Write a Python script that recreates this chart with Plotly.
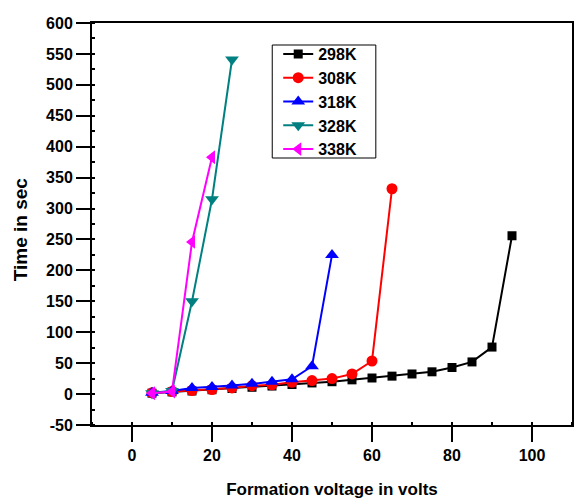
import plotly.graph_objects as go

# Data
x_298 = [5, 10, 15, 20, 25, 30, 35, 40, 45, 50, 55, 60, 65, 70, 75, 80, 85, 90, 95]
y_298 = [1.5, 3.5, 5, 7, 9, 11, 13, 15.5, 18, 20, 23, 26, 29, 32.5, 36, 43, 52, 76, 256]

x_308 = [5, 10, 15, 20, 25, 30, 35, 40, 45, 50, 55, 60, 65]
y_308 = [2, 4, 5.8, 7.4, 10, 13.5, 15, 19, 21.8, 25, 32.5, 53.5, 332]

x_318 = [5, 10, 15, 20, 25, 30, 35, 40, 45, 50]
y_318 = [2, 5, 9.7, 11.3, 13.8, 16.5, 20, 24, 45, 225]

x_328 = [5, 10, 15, 20, 25]
y_328 = [1.5, 5, 150, 315, 541]

x_338 = [5, 10, 15, 20]
y_338 = [1.3, 4, 246, 383]

names = ["298K", "308K", "318K", "328K", "338K"]
colors = ["#000000", "#ff0000", "#0000ff", "#008080", "#ff00ff"]
symbols = ["square", "circle", "triangle-up", "triangle-down", "triangle-left"]
sizes = [9, 11, 12, 12, 12]

x_ticks = [0, 20, 40, 60, 80, 100]
y_ticks = [-50, 0, 50, 100, 150, 200, 250, 300, 350, 400, 450, 500, 550, 600]

series = [(x_298, y_298), (x_308, y_308), (x_318, y_318), (x_328, y_328), (x_338, y_338)]

FONT = "Liberation Sans, Arial, sans-serif"

fig = go.Figure()
for (xs, ys), n, c, s, sz in zip(series, names, colors, symbols, sizes):
    fig.add_trace(go.Scatter(
        x=xs, y=ys, name=n, mode="lines+markers",
        line=dict(color=c, width=2),
        marker=dict(symbol=s, size=sz, color=c),
    ))

# plot area in pixels: x 92..574, y 23..425
PX0, PX1, PY0, PY1 = 92, 574, 23, 425
def px(x):
    return (x - PX0) / (PX1 - PX0)
def py(y):
    return (PY1 - y) / (PY1 - PY0)

fig.update_layout(
    width=575, height=499,
    margin=dict(l=92, r=1, t=23, b=74),
    paper_bgcolor="white", plot_bgcolor="white",
    font=dict(family=FONT, color="black", size=16, weight="bold"),
    showlegend=True,
    legend=dict(
        x=px(279), y=py(37), xanchor="left", yanchor="top",
        borderwidth=0, bgcolor="rgba(0,0,0,0)",
        font=dict(family=FONT, size=16, weight="bold", color="black"),
        tracegroupgap=0, itemwidth=30,
    ),
    shapes=[dict(type="rect", xref="paper", yref="paper",
                 x0=px(273), x1=px(377), y0=py(158), y1=py(45),
                 line=dict(color="black", width=1), fillcolor="rgba(0,0,0,0)",
                 layer="below")],
    annotations=[dict(text="Time in sec", textangle=-90, xref="paper", yref="paper",
                      x=px(20), y=py(229), xanchor="center", yanchor="middle",
                      showarrow=False,
                      font=dict(family=FONT, size=19, weight="bold", color="black"))],
)

fig.update_xaxes(
    range=[-10, 110], tickvals=x_ticks, ticktext=[str(v) for v in x_ticks],
    showgrid=False, zeroline=False,
    showline=True, linecolor="black", linewidth=2, mirror=True,
    ticks="outside", ticklen=15, tickwidth=2, tickcolor="black",
    minor=dict(ticks="inside", ticklen=3, tickwidth=1.5, tickcolor="black", dtick=10, tick0=0, showgrid=False),
    tickfont=dict(family=FONT, size=16, weight="bold"),
    title=dict(text="Formation voltage in volts", standoff=20,
               font=dict(family=FONT, size=17, weight="bold")),
)
fig.update_yaxes(
    range=[-50, 600], tickvals=y_ticks, ticktext=[str(v) for v in y_ticks],
    showgrid=False, zeroline=False,
    showline=True, linecolor="black", linewidth=2, mirror=True,
    ticks="outside", ticklen=14, tickwidth=2, tickcolor="black",
    minor=dict(ticks="inside", ticklen=3, tickwidth=1.5, tickcolor="black", dtick=25, tick0=0, showgrid=False),
    tickfont=dict(family=FONT, size=16, weight="bold"),
)

fig.write_html("out.html")
